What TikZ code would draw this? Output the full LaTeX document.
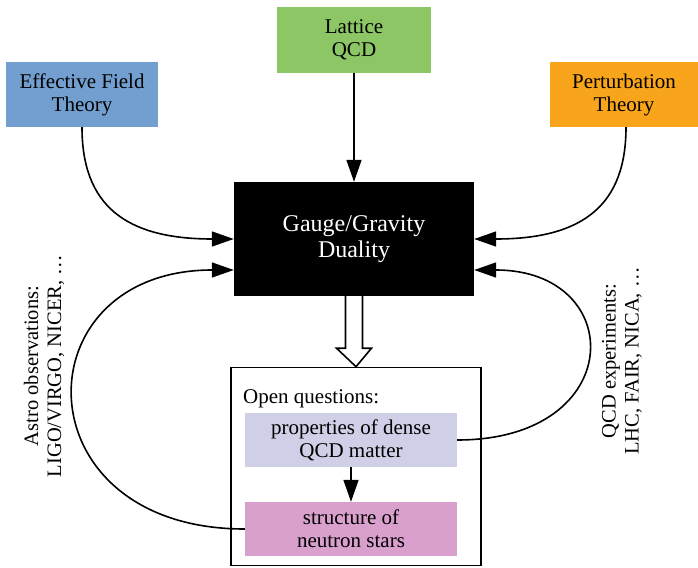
\documentclass[tikz,border=0pt]{standalone}
\usepackage{fontspec}
\setmainfont{Liberation Serif}
\usetikzlibrary{arrows.meta,calc}
\definecolor{eftblue}{HTML}{729FCF}
\definecolor{latgreen}{HTML}{8CC665}
\definecolor{pertorange}{HTML}{F8A51C}
\definecolor{proplav}{HTML}{CFCFE7}
\definecolor{structpink}{HTML}{D99FCD}
\tikzset{
  colbox/.style={rectangle, draw=none, inner sep=0pt, align=center,
    font=\fontsize{21}{23}\selectfont},
  conn/.style={line width=1.6pt, -{Triangle[length=22pt,width=15pt]}},
  sidelabel/.style={rotate=90, align=center, font=\fontsize{20.5}{23}\selectfont},
}
\begin{document}
\begin{tikzpicture}[x=1pt,y=-1pt]
\useasboundingbox (0,0) rectangle (698,567);
\node[colbox, fill=eftblue, minimum width=152pt, minimum height=65pt] (eft) at (82,94.5) {Effective Field\\Theory};
\node[colbox, fill=latgreen, minimum width=154pt, minimum height=66pt] (lat) at (354,40) {Lattice\\QCD};
\node[colbox, fill=pertorange, minimum width=148pt, minimum height=65pt] (pert) at (624,94.5) {Perturbation\\Theory};
\node[rectangle, fill=black, text=white, inner sep=0pt, align=center,
  minimum width=240pt, minimum height=114pt, font=\fontsize{24}{26}\selectfont] (gg) at (354,239) {Gauge/Gravity\\Duality};
\node[rectangle, draw=black, line width=1.6pt, inner sep=0pt, minimum width=250pt, minimum height=198pt] (oq) at (356,466.5) {};
\node[anchor=base west, inner sep=0pt, font=\fontsize{21}{23}\selectfont] (oqt) at (243,403) {Open questions:};
\node[colbox, fill=proplav, minimum width=212pt, minimum height=54pt] (props) at (351,440) {properties of dense\\QCD matter};
\node[colbox, fill=structpink, minimum width=212pt, minimum height=54pt] (struct) at (351,529) {structure of\\neutron stars};
\node[sidelabel] (astro) at (44,366) {Astro observations:\\LIGO/VIRGO, NICER, \dots};
\node[sidelabel] (qcdexp) at (622,361) {QCD experiments:\\LHC, FAIR, NICA, \dots};
\coordinate (ggL) at ($(gg.west)+(0,31)$);
\coordinate (ggR) at ($(gg.east)+(0,31)$);
\draw[conn] (lat.south) -- (gg.north);
\draw[conn] (eft.south) .. controls (82,205) and (125,239) .. (gg.west);
\draw[conn] ($(pert.south)+(2,0)$) .. controls (626,205) and (583,239) .. (gg.east);
\draw[conn] (props.south) -- (struct.north);
\draw[conn] (struct.west) .. controls (19,529) and (19,270) .. (ggL);
\draw[conn] (props.east) .. controls (628,440) and (628,270) .. (ggR);
\draw[line width=1.6pt, fill=white, line join=miter]
  ($(gg.south)+(-8.5,0)$) -- ($(gg.south)+(-8.5,52)$) -- ($(gg.south)+(-17.5,52)$)
  -- (oq.north) -- ($(gg.south)+(17.5,52)$) -- ($(gg.south)+(8.5,52)$)
  -- ($(gg.south)+(8.5,0)$);
\end{tikzpicture}
\end{document}
